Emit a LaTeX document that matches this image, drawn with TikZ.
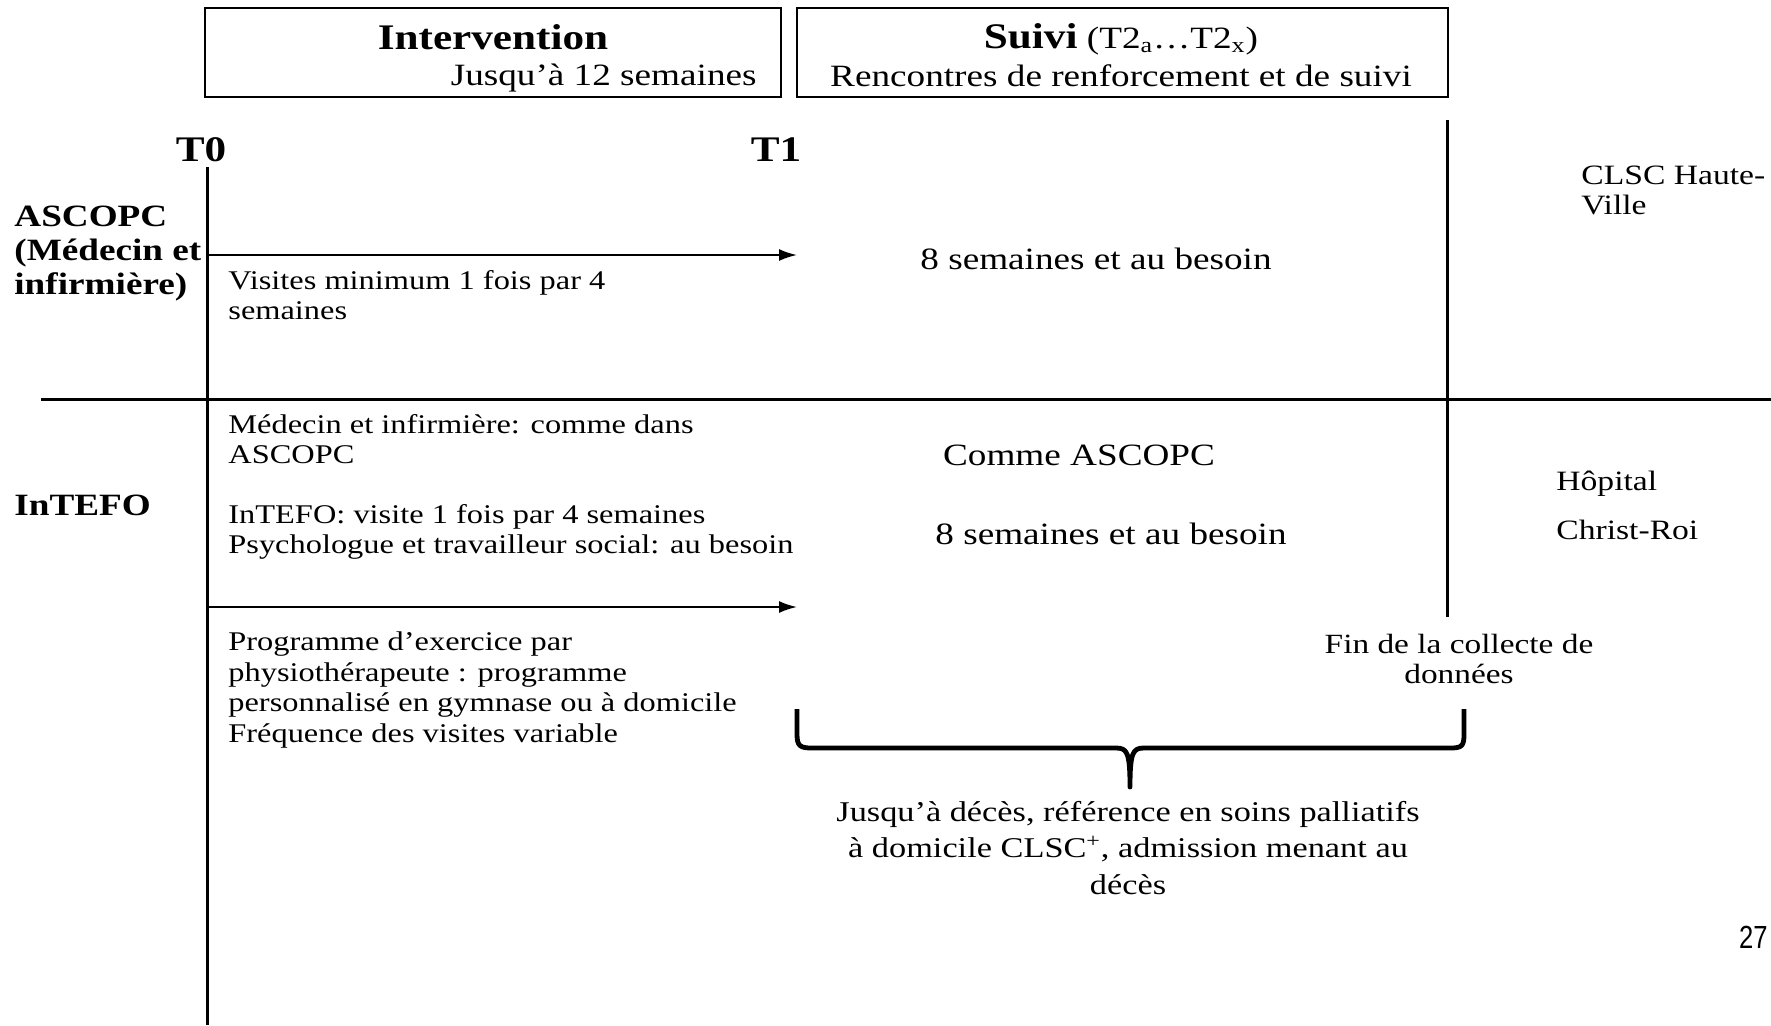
\documentclass[tikz,border=0pt]{standalone}
\usepackage{fontspec}
\setmainfont{Liberation Serif}[FakeStretch=1.2]
\newfontfamily\pagenum{Liberation Sans}[FakeStretch=0.8]
\usetikzlibrary{arrows.meta}

\tikzset{
  heading/.style={font=\fontsize{18}{20}\selectfont\bfseries, inner sep=0pt},
  group/.style={font=\fontsize{15.5}{17}\selectfont\bfseries, anchor=west, align=left, inner sep=0pt},
  note/.style={font=\fontsize{13.5}{14.7}\selectfont, anchor=west, align=left, inner sep=0pt},
  freq/.style={font=\fontsize{15.5}{17}\selectfont, inner sep=0pt},
  site/.style={font=\fontsize{14}{15}\selectfont, anchor=west, align=left, inner sep=0pt},
  phase/.style={draw, line width=0.8pt, inner sep=0pt, anchor=north west},
  axis/.style={line width=1.5pt},
  flow/.style={line width=1pt, -{Latex[length=9pt,width=6pt]}}
}

\begin{document}
\begin{tikzpicture}[x=0.5pt,y=-0.5pt]
\useasboundingbox (0,0) rectangle (1771,1025);

% phases en haut
\node[phase, minimum width=288pt, minimum height=44.5pt] (intervbox) at (204,7) {};
\node[phase, minimum width=325.5pt, minimum height=44.5pt] (suivibox) at (796,7) {};
\node[heading] (interv) at (493,37) {Intervention};
\node[freq, anchor=east] (interv2) at (757,78) {Jusqu’à 12 semaines};
\node[freq] (suivi) at (1121,39) {{\fontsize{18}{20}\selectfont\bfseries Suivi} (T2\textsubscript{a}…T2\textsubscript{x})};
\node[freq] (suivi2) at (1121,76) {Rencontres de renforcement et de suivi};

% temps
\node[heading] (t0) at (201,150) {T0};
\node[heading] (t1) at (776,150) {T1};

% axes
\coordinate (t0top) at (207,167);
\coordinate (t0bot) at (207,1025);
\coordinate (fintop) at (1447,120);
\coordinate (finbot) at (1447,617);
\coordinate (sepl) at (41,399);
\coordinate (sepr) at (1771,399);
\draw[axis] (t0top) -- (t0bot);
\draw[axis] (fintop) -- (finbot);
\draw[axis] (sepl) -- (sepr);

% groupe ASCOPC
\node[group] (ascopc) at (14,254) {ASCOPC\\(Médecin et\\infirmière)};
\coordinate (a1s) at (207,255);
\coordinate (a1e) at (797,255);
\draw[flow] (a1s) -- (a1e);
\node[note] (visites) at (228,295) {Visites minimum 1 fois par 4\\semaines};
\node[freq] (freqa) at (1096,259) {8 semaines et au besoin};
\node[site] (clsc) at (1581,190) {CLSC Haute-\\Ville};

% groupe InTEFO
\node[group] (intefo) at (14,505) {InTEFO};
\node[note] (medinf) at (228,439) {Médecin et infirmière: comme dans\\ASCOPC};
\node[note] (visiteb) at (228,532) {InTEFO: visite 1 fois par 4 semaines\\Psychologue et travailleur social: au besoin};
\coordinate (a2s) at (207,607);
\coordinate (a2e) at (797,607);
\draw[flow] (a2s) -- (a2e);
\node[note, font=\fontsize{13.5}{15.2}\selectfont] (exercice) at (228,690) {Programme d’exercice par\\physiothérapeute : programme\\personnalisé en gymnase ou à domicile\\Fréquence des visites variable};
\node[freq] (comme) at (1079,455) {Comme ASCOPC};
\node[freq] (freqb) at (1111,534) {8 semaines et au besoin};
\node[site] (hopital) at (1556,484) {Hôpital};
\node[site] (christ) at (1556,530) {Christ-Roi};

% fin et accolade
\node[freq, font=\fontsize{13.9}{15.2}\selectfont, align=center] (fin) at (1459,659) {Fin de la collecte de\\données};
\draw[line width=2.4pt, line join=round] (797,709) -- (797,734) .. controls (797,746) and (800,748) .. (812,748)
  -- (1116,748) .. controls (1127,748) and (1130,752) .. (1130,787)
  .. controls (1130,752) and (1133,748) .. (1144,748) -- (1450,748)
  .. controls (1462,748) and (1464,746) .. (1464,734) -- (1464,709);
\node[freq, font=\fontsize{14.3}{18.3}\selectfont, align=center] (deces) at (1128,848) {Jusqu’à décès, référence en soins palliatifs\\à domicile CLSC\textsuperscript{+}, admission menant au\\décès};

\node[font=\pagenum\fontsize{16}{17}\selectfont, anchor=east, inner sep=0pt] (page) at (1768,937) {27};

\end{tikzpicture}
\end{document}
